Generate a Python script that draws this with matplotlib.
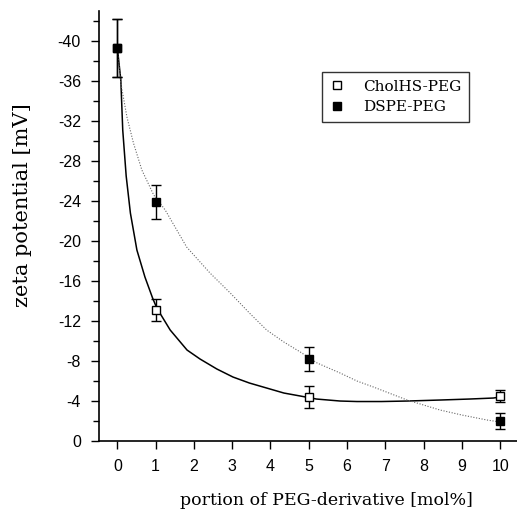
import numpy as np
import matplotlib.pyplot as plt

# measured points (mol% PEG-derivative vs zeta potential, mV)
x_mol = [0, 1, 5, 10]
chol_zeta = [-39.3, -13.1, -4.4, -4.5]
chol_err = [2.9, 1.1, 1.1, 0.6]
dspe_zeta = [-39.3, -23.9, -8.2, -2.0]
dspe_err = [2.9, 1.7, 1.2, 0.8]

# fitted curves
chol_fit_x = [0.0, 0.09, 0.14, 0.23, 0.34, 0.51, 0.72, 0.92, 1.03, 1.38, 1.82, 2.16,
              2.6, 3.02, 3.45, 3.9, 4.35, 4.78, 5.2, 5.82, 6.26, 6.9, 7.57, 8.43, 9.2, 9.82, 10.0]
chol_fit_y = [-39.3, -36.1, -31.1, -26.5, -22.8, -19.1, -16.4, -14.3, -13.3, -11.1, -9.1, -8.2,
              -7.2, -6.4, -5.8, -5.3, -4.8, -4.5, -4.2, -4.0, -3.95, -3.95, -4.0, -4.1, -4.2, -4.3, -4.4]
dspe_fit_x = [0.0, 0.09, 0.25, 0.42, 0.64, 0.95, 1.25, 1.81, 2.42, 2.95, 3.45, 3.9,
              4.35, 4.78, 5.22, 5.82, 6.26, 6.69, 7.57, 8.43, 9.0, 9.66, 10.0]
dspe_fit_y = [-39.3, -35.8, -32.4, -29.8, -27.1, -24.6, -23.1, -19.4, -16.8, -14.8, -12.8, -11.1,
              -9.9, -8.9, -7.8, -6.8, -6.0, -5.4, -4.1, -3.1, -2.6, -2.1, -1.9]

xticks = list(range(0, 11))
yticks = list(range(0, -41, -4))
yminor = list(range(-2, -43, -4))

plt.rcParams['font.family'] = 'DejaVu Serif'
fig = plt.figure(figsize=(5.17, 5.18), dpi=100)
ax = fig.add_axes([0.1915, 0.1486, 0.8085, 0.830])

ax.plot(chol_fit_x, chol_fit_y, color='black', lw=1.1)
ax.plot(dspe_fit_x, dspe_fit_y, color='#666666', lw=0.8, ls=(0, (1, 1.5)))

ax.errorbar(x_mol, chol_zeta, yerr=chol_err, fmt='s', mfc='white', mec='black', mew=1.0,
            ms=5.5, ecolor='black', elinewidth=1.0, capsize=3.5, capthick=1.0,
            label='CholHS-PEG', zorder=3)
ax.errorbar(x_mol, dspe_zeta, yerr=dspe_err, fmt='s', mfc='black', mec='black',
            ms=6, ecolor='black', elinewidth=1.0, capsize=3.5, capthick=1.0,
            label='DSPE-PEG', zorder=4)

ax.set_xlim(-0.48, 10.44)
ax.set_ylim(0, -43)
ax.spines['top'].set_visible(False)
ax.spines['right'].set_visible(False)
ax.spines['left'].set_linewidth(1.2)
ax.spines['bottom'].set_linewidth(1.2)

ax.set_xticks(xticks)
ax.set_xticklabels([str(v) for v in xticks], family='Liberation Sans', fontsize=11.5)
ax.set_yticks(yticks)
ax.set_yticklabels([('-' + str(-v)) if v != 0 else '0' for v in yticks],
                   family='Liberation Sans', fontsize=11.5)
ax.set_yticks(yminor, minor=True)
ax.tick_params(axis='both', which='major', direction='out', length=6, width=1.0, pad=7)
ax.tick_params(axis='y', which='minor', direction='out', length=4, width=1.0)

ax.set_xlabel('portion of PEG-derivative [mol%]', fontsize=12.5)
ax.xaxis.set_label_coords(0.543, -0.119)
ax.set_ylabel('zeta potential [mV]', fontsize=15)
ax.yaxis.set_label_coords(-0.16, 0.549)

handles, labels = ax.get_legend_handles_labels()
handles = [h[0] for h in handles]
leg = ax.legend(handles, labels, loc='upper left', bbox_to_anchor=(0.533, 0.858),
                borderaxespad=0, fontsize=11, frameon=True, fancybox=False,
                edgecolor='black', handlelength=1.0, handletextpad=1.2,
                borderpad=0.5, labelspacing=0.4)
leg.get_frame().set_linewidth(1.0)

fig.savefig('out.png', dpi=100)
